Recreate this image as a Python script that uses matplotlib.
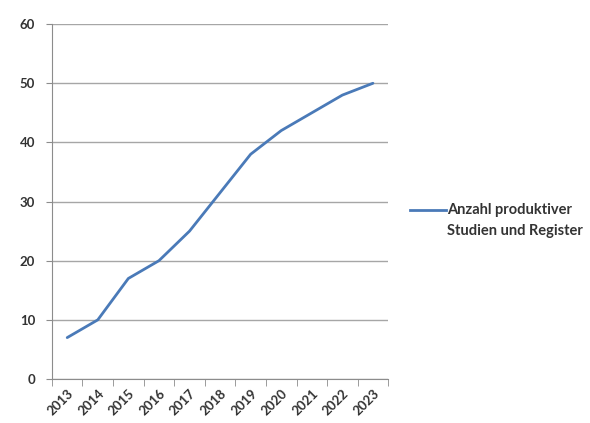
import matplotlib
matplotlib.use('Agg')
import matplotlib.pyplot as plt
from matplotlib.lines import Line2D
import numpy as np

# values
years = ['2013', '2014', '2015', '2016', '2017', '2018',
         '2019', '2020', '2021', '2022', '2023']
studien = [7, 10, 17, 20, 25, 31.5, 38, 42, 45, 48, 50]
series_label = 'Anzahl produktiver\nStudien und Register'

plt.rcParams['font.family'] = ['Lato', 'DejaVu Sans']
line_color = '#4a7ab8'

fig = plt.figure(figsize=(5.9, 4.23), dpi=100)
ax = fig.add_axes([0.088, 0.104, 0.57, 0.839])

x = np.arange(len(years))
ax.plot(x, studien, color=line_color, linewidth=2.0,
        solid_joinstyle='round', solid_capstyle='round')

ax.set_xlim(-0.5, len(years) - 0.5)
ax.set_ylim(0, 60)
ax.set_yticks(range(0, 61, 10))
ax.yaxis.grid(True, color='#a6a6a6', linewidth=1.0)
ax.set_axisbelow(True)

# category labels in the middle, tick marks on the borders
ax.set_xticks(x)
ax.set_xticklabels(years, rotation=45, ha='right', rotation_mode='anchor',
                   fontsize=9.5, fontweight='bold', color='#333333')
ax.set_xticks(np.arange(-0.5, len(years)), minor=True)
ax.tick_params(axis='x', which='major', length=0, pad=6)
ax.tick_params(axis='x', which='minor', length=5, color='#8c8c8c')
ax.tick_params(axis='y', length=4, color='#8c8c8c', labelsize=9.5, pad=8,
               labelcolor='#333333')
for lab in ax.get_yticklabels():
    lab.set_fontweight('bold')

for side in ['top', 'right']:
    ax.spines[side].set_visible(False)
for side in ['left', 'bottom']:
    ax.spines[side].set_color('#8c8c8c')

# legend like Excel: key next to the first text line
key_y = 1 - 210 / 423
fig.add_artist(Line2D([410 / 590, 446 / 590], [key_y, key_y],
                      transform=fig.transFigure, color=line_color, linewidth=2.0))
fig.text(447 / 590, key_y + 0.016, series_label, fontsize=10.5, fontweight='bold',
         color='#333333', va='top', ha='left', linespacing=1.65)

fig.savefig('out.png', dpi=100, facecolor='white')
